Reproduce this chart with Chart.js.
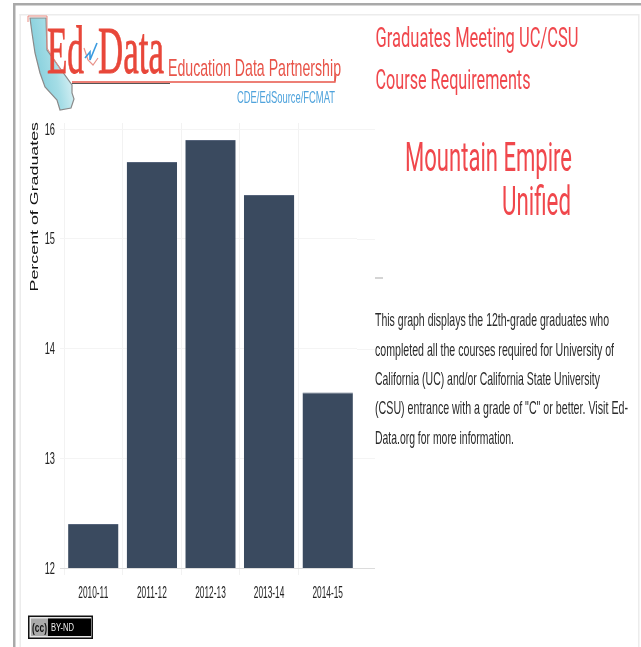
<!DOCTYPE html>
<html><head><meta charset="utf-8">
<script src="https://cdn.jsdelivr.net/npm/chart.js@4"></script>
<style>
html,body{margin:0;padding:0;background:#fff;overflow:hidden}
#page{position:relative;width:641px;height:647px;filter:blur(.45px)}
#page>*{position:absolute;left:0;top:0}
</style></head><body>
<div id="page">
<canvas id="c" width="641" height="647"></canvas>
<svg width="641" height="647" viewBox="0 0 641 647" style="pointer-events:none">
  <defs><linearGradient id="ca" x1="0" y1="0.6" x2="1" y2="0.2">
    <stop offset="0" stop-color="#7ccbd9"/><stop offset=".5" stop-color="#a5dde6"/><stop offset="1" stop-color="#f4fbfc"/></linearGradient></defs>
  <rect x="13" y="3" width="628" height="2.5" fill="#a9a9a9"/>
  <rect x="13" y="3" width="2.5" height="644" fill="#a9a9a9"/>
  <rect x="19.5" y="14" width="619" height="1.5" fill="#ececec"/>
  <rect x="19.5" y="14" width="1.5" height="633" fill="#ececec"/>
  <rect x="638" y="14" width="1.5" height="633" fill="#ececec"/>

  <polygon points="30,18 46,18 47,50 72,85 72,93 74,99 71,108 60,110 57,100 45,87 40,73 35,53 32,33" fill="url(#ca)" stroke="#8a8a8a" stroke-width="1.2"/>
  <polyline points="28,22 28,16 47,16 47,48 62,72" fill="none" stroke="#e88a80" stroke-width="1"/>
  <polyline points="84,48 88,60 93,65 98,58" fill="none" stroke="#e8928a" stroke-width="1.2"/>
  <polyline points="85,58 90,52 90,60 97,43" fill="none" stroke="#3b9be0" stroke-width="1.6"/>
  <text x="47" y="73" font-family="'Liberation Serif'" font-size="68" fill="#e8473a" stroke="#e8473a" stroke-width=".8" textLength="37" lengthAdjust="spacingAndGlyphs">Ed</text>
  <text x="98" y="73" font-family="'Liberation Serif'" font-size="68" fill="#e8473a" stroke="#e8473a" stroke-width=".8" textLength="66" lengthAdjust="spacingAndGlyphs">Data</text>
  <text x="168" y="76" font-family="'Liberation Sans'" font-size="24" fill="#e8554a" textLength="173" lengthAdjust="spacingAndGlyphs">Education Data Partnership</text>
  <polyline points="72,82 335,82 336,74" fill="none" stroke="#e8554a" stroke-width="1.3"/>
  <line x1="72" y1="83.5" x2="170" y2="83.5" stroke="#555" stroke-width="1"/>
  <text x="237" y="103" font-family="'Liberation Sans'" font-size="17" fill="#4fa3dc" textLength="98" lengthAdjust="spacingAndGlyphs">CDE/EdSource/FCMAT</text>

  <g font-family="Roboto" fill="#f0474c">
    <text x="375.5" y="47" font-size="27" textLength="203" lengthAdjust="spacingAndGlyphs">Graduates Meeting UC/CSU</text>
    <text x="375.5" y="89" font-size="27" textLength="155" lengthAdjust="spacingAndGlyphs">Course Requirements</text>
    <text x="405" y="171" font-size="41" font-weight="400" textLength="167" lengthAdjust="spacingAndGlyphs">Mountain Empire</text>
    <text x="502" y="215" font-size="41" font-weight="400" textLength="69" lengthAdjust="spacingAndGlyphs">Unified</text>
  </g>
  <rect x="375" y="277.5" width="8" height="1" fill="#aaa"/>
  <g font-family="'Liberation Sans'" font-size="19" fill="#2a2a2a">
    <text x="375" y="326" textLength="234" lengthAdjust="spacingAndGlyphs">This graph displays the 12th-grade graduates who</text>
    <text x="375" y="355.5" textLength="239" lengthAdjust="spacingAndGlyphs">completed all the courses required for University of</text>
    <text x="375" y="385" textLength="225" lengthAdjust="spacingAndGlyphs">California (UC) and/or California State University</text>
    <text x="375" y="414" textLength="253" lengthAdjust="spacingAndGlyphs">(CSU) entrance with a grade of "C" or better. Visit Ed-</text>
    <text x="375" y="443.5" textLength="139" lengthAdjust="spacingAndGlyphs">Data.org for more information.</text>
  </g>

  <rect x="28" y="615.5" width="65" height="23.5" fill="#111"/>
  <rect x="29.5" y="617" width="62" height="20.5" fill="#e8e8e8"/>
  <rect x="31" y="618.5" width="60" height="17.5" fill="#aaa"/>
  <rect x="48" y="618.5" width="43" height="17.5" fill="#000"/>
  <text x="32" y="632" font-family="'Liberation Sans'" font-weight="bold" font-size="13" fill="#111" textLength="15" lengthAdjust="spacingAndGlyphs">(cc)</text>
  <text x="51" y="631" font-family="'Liberation Sans'" font-size="10" fill="#eee" textLength="23" lengthAdjust="spacingAndGlyphs">BY-ND</text>
</svg>
</div>
<script>
const categories = ["2010-11","2011-12","2012-13","2013-14","2014-15"];
const percentGraduates = [12.4,15.7,15.9,15.4,13.6];
const yTicks = [12,13,14,15,16];
const yAxisTitle = "Percent of Graduates";

function squeezed(ctx,text,x,y,sx,rot){
  ctx.save();ctx.translate(x,y);if(rot)ctx.rotate(rot);ctx.scale(sx,1);ctx.fillText(text,0,0);ctx.restore();
}
const axisText = {
  id:"axisText",
  beforeDatasetsDraw(chart){
    const {ctx,scales:{y},chartArea:a}=chart;
    ctx.save();
    ctx.lineWidth=1;
    y.ticks.forEach(t=>{
      const p=Math.round(y.getPixelForValue(t.value))+.5;
      ctx.strokeStyle=t.value===12?"#dcdcdc":"#f4f4f4";
      ctx.beginPath();ctx.moveTo(a.right,p);ctx.lineTo(375,p);ctx.stroke();
    });
    ctx.restore();
  },
  afterDraw(chart){
    const {ctx,scales:{x,y}}=chart;
    ctx.save();
    ctx.fillStyle="#222";ctx.font="16px 'Liberation Sans'";
    ctx.textBaseline="alphabetic";
    ctx.textAlign="center";
    categories.forEach((c,i)=>squeezed(ctx,c,x.getPixelForValue(i),597.5,.52));
    ctx.textAlign="right";
    y.ticks.forEach(t=>squeezed(ctx,String(t.value),55,y.getPixelForValue(t.value)+5.5,.58));
    ctx.fillStyle="#111";ctx.font="11.5px 'Liberation Sans'";ctx.textAlign="right";
    squeezed(ctx,y.options.title.text,38,122,1.55,-Math.PI/2);
    ctx.restore();
  }
};
new Chart(document.getElementById("c"),{
  type:"bar",
  data:{labels:categories,datasets:[{data:percentGraduates,backgroundColor:"#3a4a5f",borderColor:"#55637a",borderWidth:{top:1,left:0,right:0,bottom:0},barPercentage:.86,categoryPercentage:1}]},
  plugins:[axisText],
  options:{
    responsive:false,animation:false,
    layout:{padding:{left:0,top:123,right:284,bottom:0}},
    plugins:{legend:{display:false},tooltip:{enabled:false},title:{display:false}},
    scales:{
      x:{
        ticks:{display:false},
        afterFit(s){s.height=79;},
        border:{display:false},
        grid:{offset:true,tickLength:7,color:c=>c.index===undefined?"rgba(0,0,0,0)":"#f2f2f2"}
      },
      y:{
        min:12,max:16.055,
        afterBuildTicks(s){s.ticks=yTicks.map(v=>({value:v}));},
        afterFit(s){s.width=64;},
        ticks:{display:false},
        title:{display:false,text:yAxisTitle},
        border:{display:false},
        grid:{tickLength:4,color:c=>c.tick&&c.tick.value===12?"#dcdcdc":"#f4f4f4"}
      }
    }
  }
});
</script>
</body></html>
